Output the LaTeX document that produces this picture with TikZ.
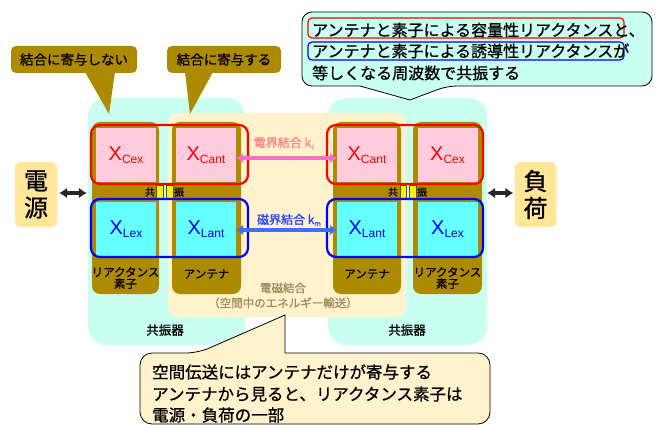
\documentclass[tikz,border=0pt]{standalone}
\usepackage{fontspec}
\setmainfont{Noto Sans CJK JP}[RawFeature={embolden=0.8}]
\newfontfamily\latf{Liberation Sans}
\usetikzlibrary{arrows.meta}
\definecolor{resc}{HTML}{C8FFF0}
\definecolor{emy}{HTML}{FFF2CC}
\definecolor{brn}{HTML}{AD8A00}
\definecolor{pinkb}{HTML}{FFCCDD}
\definecolor{cyanb}{HTML}{66FFFF}
\definecolor{srcy}{HTML}{FFE699}
\definecolor{pinka}{HTML}{FF6EC8}
\definecolor{bluea}{HTML}{3C6EFF}
\definecolor{pinkt}{HTML}{FF8080}
\definecolor{bluet}{HTML}{2244FF}
\definecolor{emt}{HTML}{9C8A5A}
\begin{document}
\begin{tikzpicture}[x=1pt,y=-1pt,
  resbg/.style={fill=resc, rounded corners=18pt, inner sep=0pt},
  embg/.style={fill=emy, rounded corners=10pt, inner sep=0pt},
  colbox/.style={fill=brn, rounded corners=8pt, minimum height=172pt, inner sep=0pt},
  pbox/.style={fill=pinkb, minimum width=60pt, minimum height=54pt, inner sep=0pt},
  cbox/.style={fill=cyanb, minimum width=60pt, minimum height=54pt, inner sep=0pt},
  grp/.style={draw=#1, line width=2.2pt, rounded corners=9pt, inner sep=0pt},
  pad/.style={fill=yellow, draw=black!70, line width=0.4pt, minimum width=6.5pt, minimum height=13pt, inner sep=0pt},
  xlab/.style={text=#1, font=\latf\fontsize{20}{22}\selectfont, inner sep=0pt},
  jsmall/.style={font=\fontsize{11.5}{11.5}\selectfont, align=center, inner sep=0pt},
  jres/.style={font=\fontsize{10}{10}\selectfont, inner sep=0pt},
  coup/.style={line width=4pt, {Latex[length=7pt,width=11pt]}-{Latex[length=7pt,width=11pt]}},
  blk/.style={line width=3.5pt, black!85, {Latex[length=8pt,width=11pt]}-{Latex[length=8pt,width=11pt]}},
  srcbox/.style={fill=srcy, rounded corners=6pt, minimum width=42pt, minimum height=65pt, inner sep=0pt, align=center, font=\fontsize{24}{27}\selectfont},
  bcall/.style={fill=brn, rounded corners=5pt, minimum height=27pt, inner sep=0pt, font=\fontsize{13.5}{14}\selectfont},
  ctext/.style={font=\fontsize{16}{18}\selectfont, inner sep=0pt, anchor=west},
  btext/.style={font=\fontsize{16.5}{18}\selectfont, inner sep=0pt, anchor=west},
  callout/.style={draw=black, line width=0.8pt}
]
\useasboundingbox (0,0) rectangle (659,425);
\clip (0,0) rectangle (659,425);

% resonators and coupling region
\node[resbg, minimum width=157pt, minimum height=247pt] (resL) at (166.5,221.5) {};
\node[resbg, minimum width=159pt, minimum height=247pt] (resR) at (407.5,221.5) {};
\node[embg, minimum width=238pt, minimum height=204pt] (em) at (287,215) {};

% columns
\node[colbox, minimum width=67pt] (colLr) at (125.5,208) {};
\node[colbox, minimum width=69pt] (colLa) at (206.5,208) {};
\node[colbox, minimum width=68pt] (colRa) at (367,208) {};
\node[colbox, minimum width=69pt] (colRr) at (447.5,208) {};

% resonance pads
\node[pad] (padL1) at (159.7,191.5) {};
\node[pad] (padL2) at (169.7,191.5) {};
\node[pad] (padR1) at (403,191.5) {};
\node[pad] (padR2) at (412.5,191.5) {};
\node[jres] (kyL) at (150,192) {共};
\node[jres] (shL) at (179,192) {振};
\node[jres] (kyR) at (393,192) {共};
\node[jres] (shR) at (422,192) {振};

% element boxes
\node[pbox] (pL1) at (126,155) {};
\node[pbox] (pL2) at (206,155) {};
\node[pbox] (pR1) at (367,155) {};
\node[pbox] (pR2) at (447.5,155) {};
\node[cbox] (cL1) at (126,229) {};
\node[cbox] (cL2) at (206,229) {};
\node[cbox] (cR1) at (367,229) {};
\node[cbox] (cR2) at (447.5,229) {};

\node[grp=red, minimum width=157pt, minimum height=59pt] (redL) at (169.5,154.5) {};
\node[grp=red, minimum width=156pt, minimum height=59pt] (redR) at (405,154.5) {};
\node[grp=blue, minimum width=157pt, minimum height=58pt] (bluL) at (169.5,228) {};
\node[grp=blue, minimum width=156pt, minimum height=58pt] (bluR) at (405,228) {};

% labels X
\node[xlab=red] (xL1) at (pL1) {X\raisebox{-3.5pt}{\fontsize{12}{12}\selectfont Cex}};
\node[xlab=red] (xL2) at (pL2) {X\raisebox{-3.5pt}{\fontsize{12}{12}\selectfont Cant}};
\node[xlab=red] (xR1) at (pR1) {X\raisebox{-3.5pt}{\fontsize{12}{12}\selectfont Cant}};
\node[xlab=red] (xR2) at (pR2) {X\raisebox{-3.5pt}{\fontsize{12}{12}\selectfont Cex}};
\node[xlab=blue] (yL1) at (cL1) {X\raisebox{-3.5pt}{\fontsize{12}{12}\selectfont Lex}};
\node[xlab=blue] (yL2) at (cL2) {X\raisebox{-3.5pt}{\fontsize{12}{12}\selectfont Lant}};
\node[xlab=blue] (yR1) at (cR1) {X\raisebox{-3.5pt}{\fontsize{12}{12}\selectfont Lant}};
\node[xlab=blue] (yR2) at (cR2) {X\raisebox{-3.5pt}{\fontsize{12}{12}\selectfont Lex}};

% coupling arrows
\draw[coup, pinka] ([yshift=-3pt]pL2.east) -- ([yshift=-3pt]pR1.west);
\draw[coup, bluea] ([yshift=-1pt]cL2.east) -- ([yshift=-1pt]cR1.west);
\node[font=\fontsize{12}{12}\selectfont, text=pinkt, inner sep=0pt] (ec) at (284,143) {電界結合 k\raisebox{-2pt}{\fontsize{6}{6}\selectfont c}};
\node[font=\fontsize{12}{12}\selectfont, text=bluet, inner sep=0pt] (mc) at (289,220) {磁界結合 k\raisebox{-2pt}{\fontsize{7}{7}\selectfont m}};

% column labels
\node[jsmall] (lbLr) at (125.5,278) {リアクタンス\\素子};
\node[jsmall] (lbLa) at (206.5,274) {アンテナ};
\node[jsmall] (lbRa) at (367,274) {アンテナ};
\node[jsmall] (lbRr) at (447.5,278) {リアクタンス\\素子};
\node[font=\fontsize{11.5}{15}\selectfont, text=emt, align=center, inner sep=0pt] (emlab) at (283,295.5) {電磁結合\\（空間中のエネルギー輸送）};
\node[font=\fontsize{12.5}{13}\selectfont, inner sep=0pt] (rlabL) at (165,330) {共振器};
\node[font=\fontsize{12.5}{13}\selectfont, inner sep=0pt] (rlabR) at (407,330) {共振器};

% source and load
\node[srcbox] (src) at (36,194.5) {電\\源};
\node[srcbox] (load) at (535.5,194.5) {負\\荷};
\draw[blk] ([xshift=2pt,yshift=1.5pt]src.east) -- ([xshift=-1pt,yshift=1.5pt]src.east -| resL.west);
\draw[blk] ([yshift=1.5pt]load.west -| resR.east) -- ([xshift=-1pt,yshift=1.5pt]load.west);

% brown callouts
\node[bcall, minimum width=126pt] (cb1) at (74,59.5) {結合に寄与しない};
\fill[brn] (85,72) -- (109,114) -- (115,72) -- cycle;
\node[bcall, minimum width=114pt] (cb2) at (224,59.5) {結合に寄与する};
\fill[brn] (185,72) -- (190,114) -- (213,72) -- cycle;

% top callout
\filldraw[callout, fill=resc] (302,49) [rounded corners=10pt] -- (302,12) -- (652,12) -- (652,86) -- (447,86) [sharp corners] -- (410,100) -- (360,86) [rounded corners=10pt] -- (302,86) -- cycle;
\node[draw=red, line width=1.2pt, rounded corners=4pt, minimum width=316pt, minimum height=20pt, inner sep=0pt] (rb) at (466,28) {};
\node[draw=blue, line width=1.2pt, rounded corners=4pt, minimum width=316pt, minimum height=18pt, inner sep=0pt] (bb) at (466,51) {};
\node[ctext] (t1) at (312,30) {アンテナと素子による容量性リアクタンスと、};
\node[ctext] (t2) at (312,51) {アンテナと素子による誘導性リアクタンスが};
\node[ctext] (t3) at (312,73) {等しくなる周波数で共振する};

% bottom callout
\filldraw[callout, fill=emy] (140,390) [rounded corners=12pt] -- (140,353) -- (198,353) [sharp corners] -- (285,315) -- (285,353) [rounded corners=12pt] -- (490,353) -- (490,424) -- (140,424) -- cycle;
\node[btext] (b1) at (152,372) {空間伝送にはアンテナだけが寄与する};
\node[btext] (b2) at (152,394) {アンテナから見ると、リアクタンス素子は};
\node[btext] (b3) at (152,415) {電源・負荷の一部};
\end{tikzpicture}
\end{document}
